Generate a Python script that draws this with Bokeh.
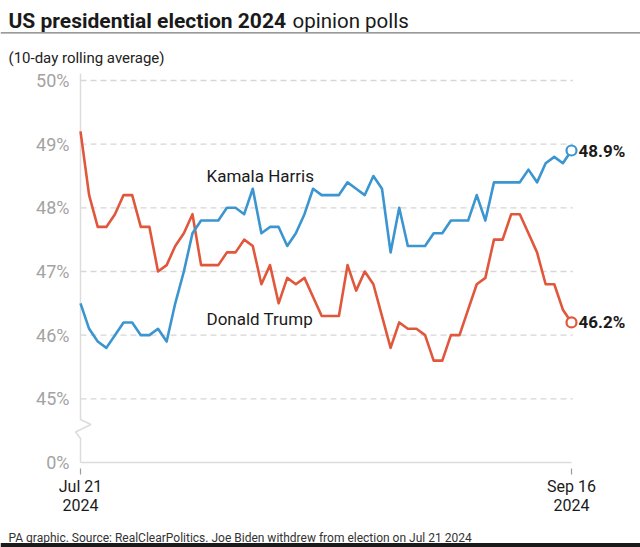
import pandas as pd
from bokeh.plotting import figure
from bokeh.models import Label, FixedTicker, Range1d, BoxAnnotation, LinearAxis
from bokeh.embed import file_html
from bokeh.resources import INLINE

# ---------------- data ----------------
dates = pd.date_range("2024-07-21", "2024-09-16", freq="D")
harris = [46.5, 46.1, 45.9, 45.8, 46.0, 46.2, 46.2, 46.0, 46.0, 46.1,
          45.9, 46.5, 47.0, 47.6, 47.8, 47.8, 47.8, 48.0, 48.0, 47.9,
          48.3, 47.6, 47.7, 47.7, 47.4, 47.6, 47.9, 48.3, 48.2, 48.2,
          48.2, 48.4, 48.3, 48.2, 48.5, 48.3, 47.3, 48.0, 47.4, 47.4,
          47.4, 47.6, 47.6, 47.8, 47.8, 47.8, 48.2, 47.8, 48.4, 48.4,
          48.4, 48.4, 48.6, 48.4, 48.7, 48.8, 48.7, 48.9]
trump = [49.2, 48.2, 47.7, 47.7, 47.9, 48.2, 48.2, 47.7, 47.7, 47.0,
         47.1, 47.4, 47.6, 47.9, 47.1, 47.1, 47.1, 47.3, 47.3, 47.5,
         47.4, 46.8, 47.1, 46.5, 46.9, 46.8, 46.9, 46.6, 46.3, 46.3,
         46.3, 47.1, 46.7, 47.0, 46.8, 46.3, 45.8, 46.2, 46.1, 46.1,
         46.0, 45.6, 45.6, 46.0, 46.0, 46.4, 46.8, 46.9, 47.5, 47.5,
         47.9, 47.9, 47.6, 47.3, 46.8, 46.8, 46.4, 46.2]
series_names = ["Kamala Harris", "Donald Trump"]
y_ticks = [0, 45, 46, 47, 48, 49, 50]
y_tick_labels = ["0%", "45%", "46%", "47%", "48%", "49%", "50%"]
x_tick_labels = ["Jul 21\n2024", "Sep 16\n2024"]

title_bold = "US presidential election 2024"
title_rest = "opinion polls"
subtitle = "(10-day rolling average)"
footer = "PA graphic. Source: RealClearPolitics. Joe Biden withdrew from election on Jul 21 2024"

# ---------------- styling / geometry ----------------
BLUE = "#3b95d1"
RED = "#e0573c"
FONT = "Roboto"
BREAK_AT = 44.0          # 0% is drawn here (axis break below 45%)

def yv(v):
    return BREAK_AT if v == 0 else v

W, H = 640, 547
PX_DAY = 491 / 57.0
PX_PCT = 63.67

def sx(px):   # canvas px -> data x
    return (px - 80) / PX_DAY

def sy(py):   # canvas px -> data y
    return BREAK_AT + (462 - py) / PX_PCT

days = list(range(len(dates)))

p = figure(width=W, height=H, output_backend="svg", toolbar_location=None,
           x_range=Range1d(sx(0), sx(W)), y_range=Range1d(sy(H), sy(0)),
           x_axis_type=None, y_axis_type=None,
           min_border_left=0, min_border_right=0, min_border_top=0,
           min_border_bottom=0)
p.outline_line_color = None
p.grid.visible = False
p.background_fill_color = "white"
p.border_fill_color = "white"

# axes (labels only), fixed inside the canvas
yax = LinearAxis(fixed_location=sx(70), ticker=FixedTicker(ticks=[yv(v) for v in y_ticks]))
yax.major_label_overrides = {yv(v): t for v, t in zip(y_ticks, y_tick_labels)}
xax = LinearAxis(fixed_location=sy(474), ticker=FixedTicker(ticks=[days[0], days[-1]]))
xax.major_label_overrides = {days[0]: x_tick_labels[0], days[-1]: x_tick_labels[1]}
for ax in (xax, yax):
    ax.axis_line_color = None
    ax.major_tick_line_color = None
    ax.minor_tick_line_color = None
    ax.major_tick_out = 0
    ax.major_tick_in = 0
    ax.major_label_text_font = FONT
yax.major_label_text_font_size = "18px"
yax.major_label_text_color = "#a3a3a3"
yax.major_label_standoff = 1
xax.major_label_text_font_size = "16px"
xax.major_label_text_color = "#1a1a1a"
xax.major_label_standoff = 2
xax.major_label_text_line_height = 1.0
p.add_layout(yax, "left")
p.add_layout(xax, "below")

# gridlines
gy = [v for v in y_ticks if v != 0]
p.segment(x0=[days[0]] * len(gy), x1=[days[-1] + 0.15] * len(gy), y0=gy, y1=gy,
          line_color="#d6d6d6", line_width=1.3, line_dash="6 4")
# 0% baseline
p.segment(x0=[days[0]], x1=[days[-1]], y0=[BREAK_AT], y1=[BREAK_AT],
          line_color="#dcdcdc", line_width=1.5)
# vertical axis with break
p.line(x=[0, 0, sx(90.5), sx(75), 0, 0],
       y=[sy(73), sy(419), sy(424), sy(431.5), sy(438), BREAK_AT],
       line_color="#dcdcdc", line_width=1.5)
# tick marks
p.segment(x0=[days[0], days[-1]], x1=[days[0], days[-1]],
          y0=[sy(468)] * 2, y1=[sy(474)] * 2, line_color="#9a9a9a", line_width=1.2)

# series
p.line(days, trump, line_color=RED, line_width=2.6, line_join="round")
p.line(days, harris, line_color=BLUE, line_width=2.6, line_join="round")
p.scatter([days[-1]], [harris[-1]], size=10, marker="circle", fill_color="white",
          line_color=BLUE, line_width=2.2)
p.scatter([days[-1]], [trump[-1]], size=10, marker="circle", fill_color="white",
          line_color=RED, line_width=2.2)

def lab(x, y, text, size, color="#1a1a1a", style="normal", align="left", base="middle"):
    p.add_layout(Label(x=x, y=y, text=text, text_font=FONT, text_font_size=size,
                       text_color=color, text_font_style=style, text_align=align,
                       text_baseline=base))

# end values
lab(days[-1] + sx(578) - sx(571), harris[-1], f"{harris[-1]:.1f}%", "17px", style="bold")
lab(days[-1] + sx(578) - sx(571), trump[-1], f"{trump[-1]:.1f}%", "17px", style="bold")
# series names
lab(sx(206), sy(175), series_names[0], "17px")
lab(sx(206), sy(318), series_names[1], "17px")

# title block
lab(sx(8), sy(20), title_bold, "21px", style="bold", base="alphabetic")
lab(sx(292), sy(20), title_rest, "20.5px", base="alphabetic")
p.add_layout(BoxAnnotation(left=sx(0), right=sx(W), bottom=sy(33), top=sy(31.8),
                           fill_color="#7a7a7a", fill_alpha=1, line_color=None))
lab(sx(8), sy(57), subtitle, "15px", color="#222222", base="alphabetic")
# footer
lab(sx(8), sy(537), footer, "12px", color="#333333", base="alphabetic")
p.add_layout(BoxAnnotation(left=sx(0), right=sx(W), bottom=sy(H), top=sy(542.5),
                           fill_color="#1a1a1a", fill_alpha=1, line_color=None))

open("out.html", "w").write(file_html(p, INLINE))
